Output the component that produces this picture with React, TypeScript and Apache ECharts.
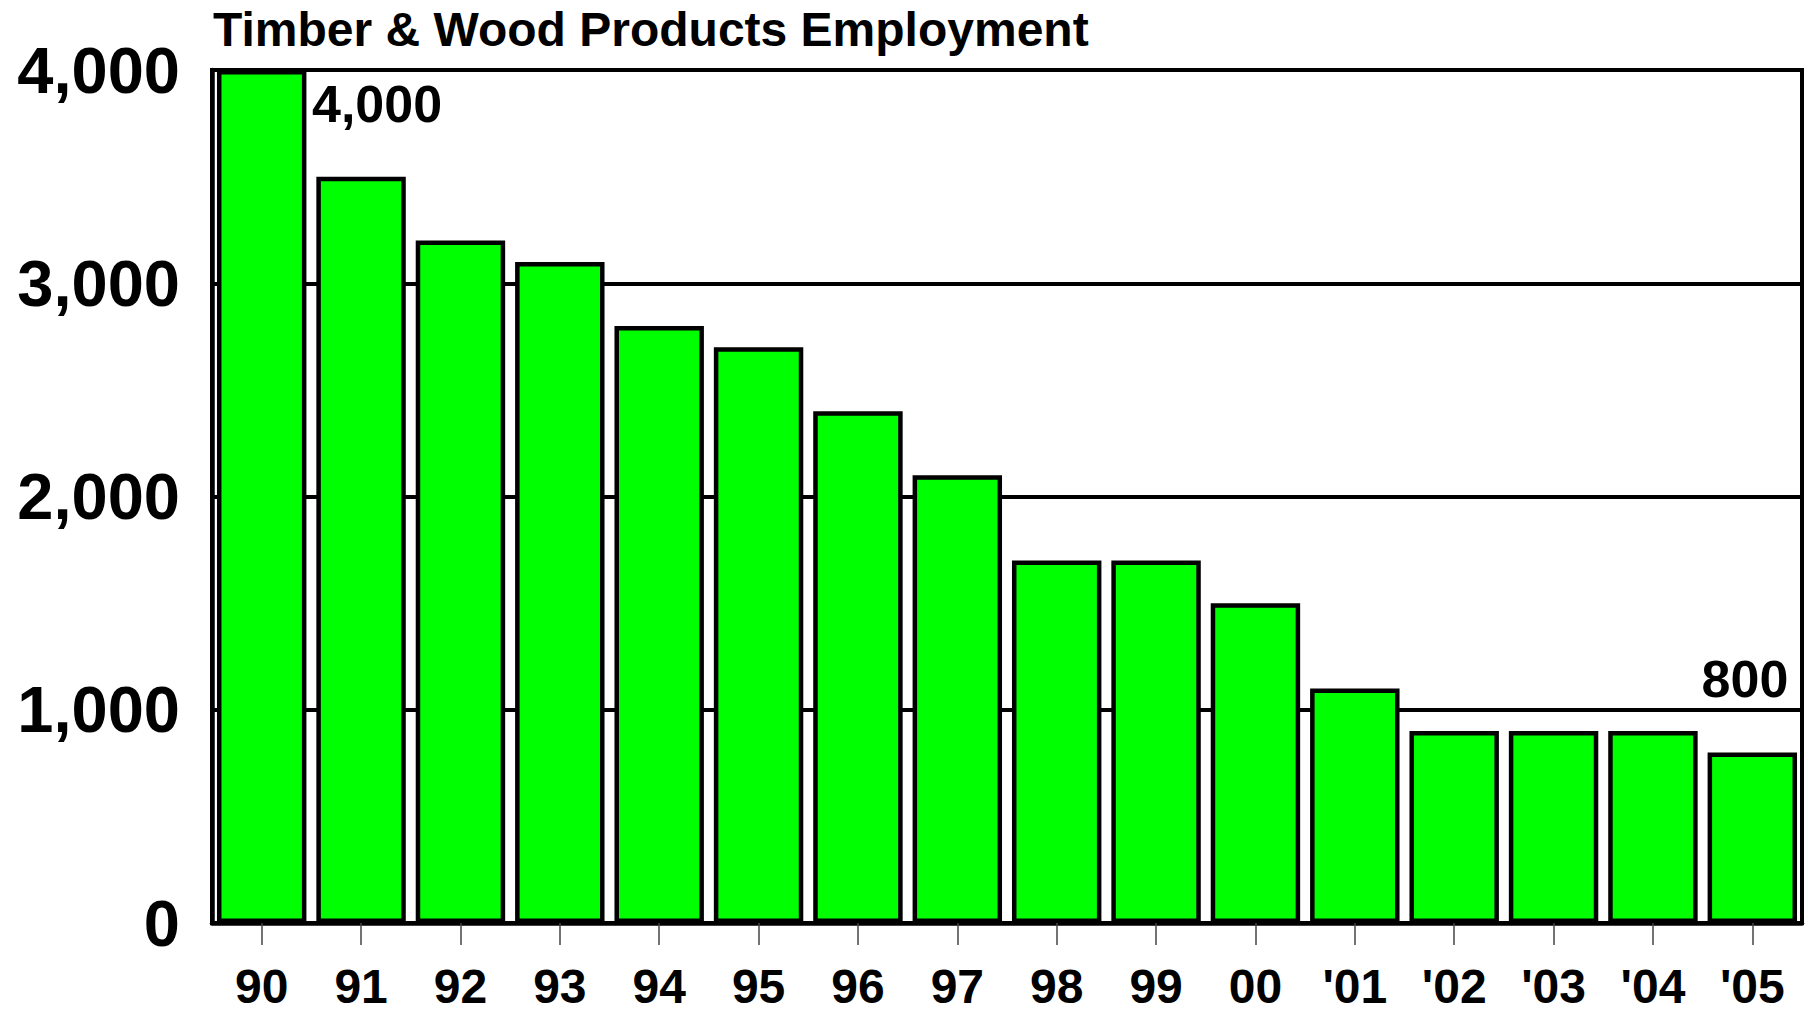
import React, { useEffect, useRef } from "react";
import * as echarts from "echarts";

const title = "Timber & Wood Products Employment";
const categories = ["90", "91", "92", "93", "94", "95", "96", "97", "98", "99", "00", "'01", "'02", "'03", "'04", "'05"];
const employment = [4000, 3500, 3200, 3100, 2800, 2700, 2400, 2100, 1700, 1700, 1500, 1100, 900, 900, 900, 800];
const yTicks = [0, 1000, 2000, 3000, 4000];

const FONT = "'Liberation Sans', Arial, Helvetica, sans-serif";

export default function App() {
  const ref = useRef<HTMLDivElement>(null);
  useEffect(() => {
    if (!ref.current) return;
    const chart = echarts.init(ref.current, null, { renderer: "svg" });
    const last = employment.length - 1;
    const labelStyle = {
      show: true,
      align: "left",
      verticalAlign: "top",
      fontSize: 52,
      fontWeight: "bold",
      fontFamily: FONT,
      color: "#000",
      formatter: (p: any) => p.value.toLocaleString("en-US"),
    };
    const data = employment.map((v, i) => {
      if (i === 0) return { value: v, label: { ...labelStyle, position: [95, 8] } };
      if (i === last) return { value: v, label: { ...labelStyle, position: [-6, -99] } };
      return v;
    });
    chart.setOption({
      animation: false,
      backgroundColor: "#fff",
      title: {
        text: title,
        left: 213,
        top: 5,
        padding: 0,
        textStyle: { fontFamily: FONT, fontSize: 48, fontWeight: "bold", color: "#000" },
      },
      grid: {
        left: 212,
        right: 6,
        top: 70,
        bottom: 90,
        show: true,
        borderColor: "#000",
        borderWidth: 4,
        backgroundColor: "transparent",
      },
      xAxis: {
        type: "category",
        data: categories,
        axisLine: { show: true, lineStyle: { color: "#000", width: 4.5 } },
        axisTick: { show: true, alignWithLabel: true, length: 22, lineStyle: { color: "#444", width: 1.5 } },
        axisLabel: {
          fontFamily: FONT,
          fontSize: 48,
          lineHeight: 44,
          fontWeight: "bold",
          color: "#000",
          margin: 41,
        },
      },
      yAxis: {
        type: "value",
        min: yTicks[0],
        max: yTicks[yTicks.length - 1],
        interval: 1000,
        axisLine: { show: true, lineStyle: { color: "#000", width: 4.5 } },
        axisTick: { show: false },
        splitLine: { show: true, lineStyle: { color: "#000", width: 4 } },
        axisLabel: {
          fontFamily: FONT,
          fontSize: 65,
          fontWeight: "bold",
          color: "#000",
          margin: 32,
          formatter: (v: number) => v.toLocaleString("en-US"),
        },
      },
      series: [
        {
          type: "bar",
          data,
          barCategoryGap: "10%",
          itemStyle: { color: "#00FF00", borderColor: "#000", borderWidth: 4.5 },
        },
      ],
    });
    return () => chart.dispose();
  }, []);
  return (
    <div
      ref={ref}
      style={{ position: "fixed", left: 0, top: 0, width: 1808, height: 1013, background: "#fff" }}
    />
  );
}
